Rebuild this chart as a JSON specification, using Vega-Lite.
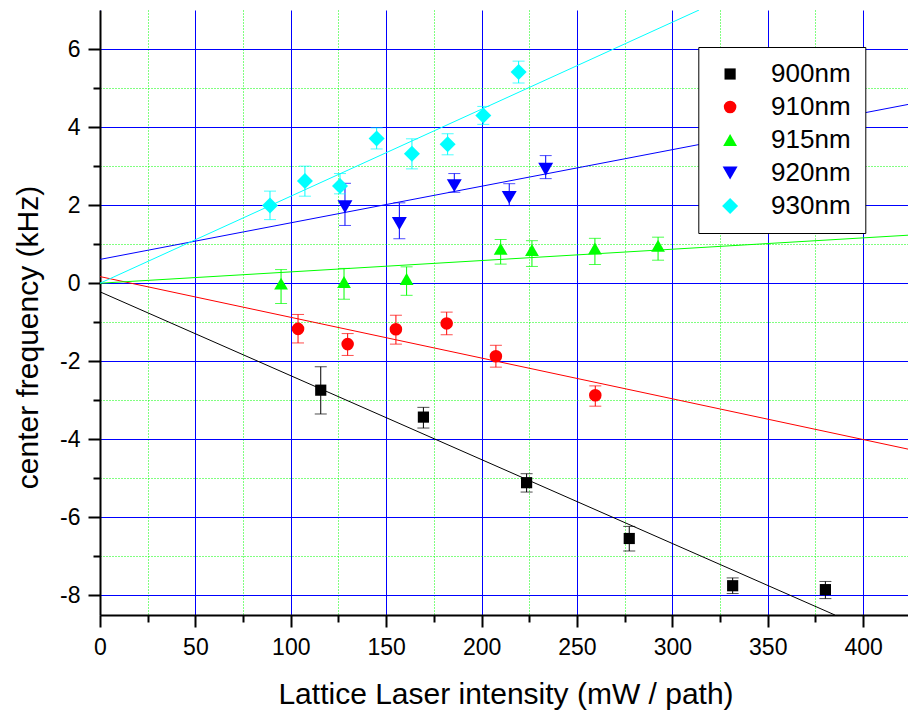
{
  "$schema": "https://vega.github.io/schema/vega-lite/v6.json",
  "width": 808,
  "height": 605,
  "autosize": "none",
  "padding": {"left": 100, "top": 10, "right": 0, "bottom": 96},
  "background": "white",
  "config": {"view": {"stroke": null}, "font": "Liberation Sans"},
  "datasets": {
    "points": [
      {"series": "900nm", "x": 115.7, "y": -2.74, "lo": -3.35, "hi": -2.14},
      {"series": "900nm", "x": 169.5, "y": -3.43, "lo": -3.71, "hi": -3.18},
      {"series": "900nm", "x": 223.6, "y": -5.11, "lo": -5.35, "hi": -4.88},
      {"series": "900nm", "x": 277.4, "y": -6.54, "lo": -6.86, "hi": -6.23},
      {"series": "900nm", "x": 331.6, "y": -7.75, "lo": -7.95, "hi": -7.55},
      {"series": "900nm", "x": 380.2, "y": -7.85, "lo": -8.08, "hi": -7.64},
      {"series": "910nm", "x": 103.8, "y": -1.17, "lo": -1.53, "hi": -0.8},
      {"series": "910nm", "x": 129.8, "y": -1.56, "lo": -1.85, "hi": -1.29},
      {"series": "910nm", "x": 155.1, "y": -1.18, "lo": -1.56, "hi": -0.82},
      {"series": "910nm", "x": 181.7, "y": -1.03, "lo": -1.32, "hi": -0.74},
      {"series": "910nm", "x": 207.5, "y": -1.87, "lo": -2.15, "hi": -1.59},
      {"series": "910nm", "x": 259.6, "y": -2.87, "lo": -3.15, "hi": -2.63},
      {"series": "915nm", "x": 94.9, "y": -0.01, "lo": -0.52, "hi": 0.35},
      {"series": "915nm", "x": 127.9, "y": 0.03, "lo": -0.41, "hi": 0.38},
      {"series": "915nm", "x": 160.7, "y": 0.11, "lo": -0.31, "hi": 0.42},
      {"series": "915nm", "x": 210.0, "y": 0.88, "lo": 0.49, "hi": 1.12},
      {"series": "915nm", "x": 226.4, "y": 0.85, "lo": 0.43, "hi": 1.09},
      {"series": "915nm", "x": 259.4, "y": 0.89, "lo": 0.48, "hi": 1.15},
      {"series": "915nm", "x": 292.5, "y": 0.96, "lo": 0.59, "hi": 1.18},
      {"series": "920nm", "x": 128.4, "y": 1.96, "lo": 1.48, "hi": 2.56},
      {"series": "920nm", "x": 156.9, "y": 1.53, "lo": 1.14, "hi": 2.06},
      {"series": "920nm", "x": 185.7, "y": 2.5, "lo": 2.33, "hi": 2.81},
      {"series": "920nm", "x": 214.5, "y": 2.2, "lo": 1.99, "hi": 2.55},
      {"series": "920nm", "x": 233.6, "y": 2.92, "lo": 2.68, "hi": 3.27},
      {"series": "930nm", "x": 89.1, "y": 1.99, "lo": 1.63, "hi": 2.36},
      {"series": "930nm", "x": 107.4, "y": 2.62, "lo": 2.23, "hi": 3.0},
      {"series": "930nm", "x": 125.8, "y": 2.49, "lo": 2.29, "hi": 2.81},
      {"series": "930nm", "x": 145.0, "y": 3.71, "lo": 3.44, "hi": 3.98},
      {"series": "930nm", "x": 163.5, "y": 3.32, "lo": 2.93, "hi": 3.7},
      {"series": "930nm", "x": 182.2, "y": 3.56, "lo": 3.29, "hi": 3.83},
      {"series": "930nm", "x": 200.9, "y": 4.3, "lo": 4.07, "hi": 4.53},
      {"series": "930nm", "x": 219.4, "y": 5.41, "lo": 5.13, "hi": 5.69}
    ],
    "fits": [
      {"series": "900nm", "x": 0, "y": -0.22},
      {"series": "900nm", "x": 385.2, "y": -8.5},
      {"series": "910nm", "x": 0, "y": 0.17},
      {"series": "910nm", "x": 423.5, "y": -4.25},
      {"series": "915nm", "x": 0, "y": 0.0},
      {"series": "915nm", "x": 423.5, "y": 1.23},
      {"series": "920nm", "x": 0, "y": 0.61},
      {"series": "920nm", "x": 423.5, "y": 4.58},
      {"series": "930nm", "x": 0, "y": 0.0},
      {"series": "930nm", "x": 314, "y": 7.0}
    ]
  },
  "layer": [
    {
      "data": {"name": "fits"},
      "mark": {"type": "line", "strokeWidth": 1, "clip": true},
      "encoding": {
        "x": {"field": "x", "type": "quantitative",
          "scale": {"domain": [0, 423.5], "nice": false, "zero": false},
          "axis": {"orient": "bottom",
            "values": [0, 25, 50, 75, 100, 125, 150, 175, 200, 225, 250, 275, 300, 325, 350, 375, 400],
            "grid": true,
            "gridColor": {"condition": {"test": "datum.value % 50 === 0", "value": "#0000ff"}, "value": "#00ff00"},
            "gridDash": {"condition": {"test": "datum.value % 50 === 0", "value": []}, "value": [1, 2]},
            "gridWidth": 1, "gridOpacity": 1,
            "domain": true, "domainColor": "black", "domainWidth": 2,
            "ticks": true,
            "tickSize": {"condition": {"test": "datum.value % 50 === 0", "value": 12}, "value": 7},
            "tickWidth": 2, "tickColor": "black",
            "labelFontSize": 23, "labelColor": "black", "labelPadding": 9, "labelFont": "Liberation Sans",
            "labelFlush": false, "labelOverlap": false,
            "labelExpr": "datum.value % 50 === 0 ? '' + datum.value : ''",
            "title": "Lattice Laser intensity (mW / path)", "titleFont": "Liberation Sans", "titleFontSize": 30,
            "titleFontWeight": "normal", "titleColor": "black", "titleX": 405.5, "titleY": 88, "titleBaseline": "alphabetic"}},
        "y": {"field": "y", "type": "quantitative",
          "scale": {"domain": [-8.5, 7], "nice": false, "zero": false},
          "axis": {"orient": "left",
            "values": [-8, -7, -6, -5, -4, -3, -2, -1, 0, 1, 2, 3, 4, 5, 6],
            "grid": true,
            "gridColor": {"condition": {"test": "datum.value % 2 === 0", "value": "#0000ff"}, "value": "#00ff00"},
            "gridDash": {"condition": {"test": "datum.value % 2 === 0", "value": []}, "value": [1, 2]},
            "gridWidth": 1, "gridOpacity": 1,
            "domain": true, "domainColor": "black", "domainWidth": 2,
            "ticks": true,
            "tickSize": {"condition": {"test": "datum.value % 2 === 0", "value": 12}, "value": 7},
            "tickWidth": 2, "tickColor": "black",
            "labelFontSize": 23, "labelColor": "black", "labelPadding": 8, "labelFont": "Liberation Sans",
            "labelFlush": false, "labelOverlap": false,
            "labelExpr": "datum.value % 2 === 0 ? '' + datum.value : ''",
            "title": "center frequency (kHz)", "titleFont": "Liberation Sans", "titleFontSize": 30,
            "titleFontWeight": "normal", "titleColor": "black", "titleAngle": -90,
            "titleX": -62.7, "titleY": 327, "titleBaseline": "alphabetic", "titleAlign": "center"}},
        "stroke": {"field": "series", "type": "nominal",
          "scale": {"range": ["#000000", "#ff0000", "#00ff00", "#0000ff", "#00ffff"]},
          "legend": null}
      }
    },
    {
      "data": {"name": "points"},
      "mark": {"type": "rule", "strokeWidth": 1},
      "encoding": {
        "x": {"field": "x", "type": "quantitative"},
        "y": {"field": "lo", "type": "quantitative"},
        "y2": {"field": "hi"},
        "stroke": {"field": "series", "type": "nominal", "legend": null}
      }
    },
    {
      "data": {"name": "points"},
      "mark": {"type": "tick", "orient": "horizontal", "size": 12, "thickness": 1},
      "encoding": {
        "x": {"field": "x", "type": "quantitative"},
        "y": {"field": "lo", "type": "quantitative"},
        "fill": {"field": "series", "type": "nominal",
          "scale": {"range": ["#000000", "#ff0000", "#00ff00", "#0000ff", "#00ffff"]},
          "legend": null}
      }
    },
    {
      "data": {"name": "points"},
      "mark": {"type": "tick", "orient": "horizontal", "size": 12, "thickness": 1},
      "encoding": {
        "x": {"field": "x", "type": "quantitative"},
        "y": {"field": "hi", "type": "quantitative"},
        "fill": {"field": "series", "type": "nominal", "legend": null}
      }
    },
    {
      "data": {"name": "points"},
      "mark": {"type": "point", "filled": true, "opacity": 1, "strokeWidth": 0},
      "encoding": {
        "x": {"field": "x", "type": "quantitative"},
        "y": {"field": "y", "type": "quantitative"},
        "color": {"field": "series", "type": "nominal",
          "scale": {"domain": ["900nm", "910nm", "915nm", "920nm", "930nm"], "range": ["#000000", "#ff0000", "#00ff00", "#0000ff", "#00ffff"]},
          "legend": {"orient": "none", "legendX": 598.3, "legendY": 37, "title": null,
            "padding": 14, "strokeColor": "black", "fillColor": "white",
            "labelFontSize": 26, "labelFont": "Liberation Sans", "labelColor": "black",
            "rowPadding": 7, "symbolOffset": 4.8, "labelOffset": 28, "cornerRadius": 0}},
        "shape": {"field": "series", "type": "nominal",
          "scale": {"domain": ["900nm", "910nm", "915nm", "920nm", "930nm"], "range": ["square", "circle", "triangle-up", "triangle-down", "diamond"]}},
        "size": {"field": "series", "type": "nominal",
          "scale": {"domain": ["900nm", "910nm", "915nm", "920nm", "930nm"], "range": [125, 256]}}
      }
    }
  ]
}
